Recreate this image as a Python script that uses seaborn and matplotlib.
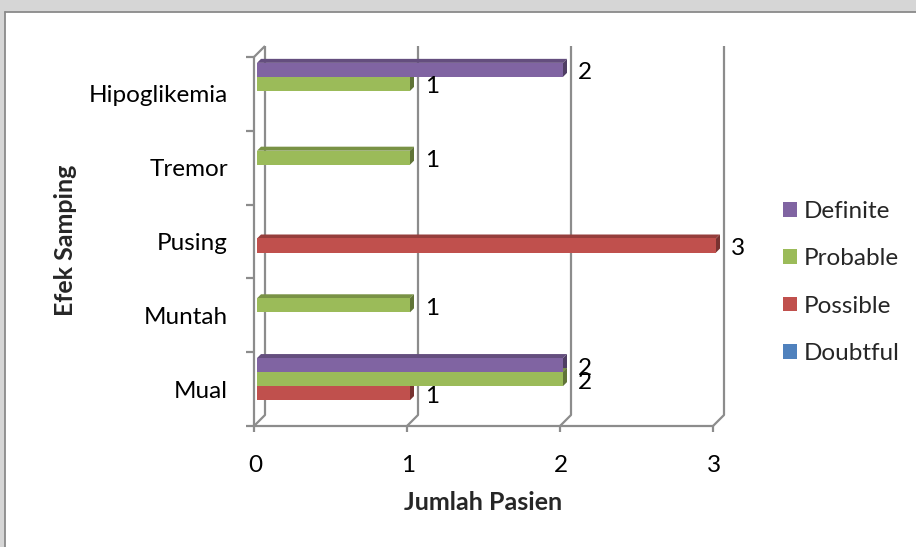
import matplotlib
matplotlib.use("Agg")
import matplotlib.pyplot as plt
from matplotlib.patches import Polygon, Rectangle
from matplotlib.lines import Line2D
from matplotlib.transforms import ScaledTranslation
import numpy as np
import pandas as pd
import seaborn as sns

# Data: adverse effects (top to bottom) and causality categories
efek = ["Hipoglikemia", "Tremor", "Pusing", "Muntah", "Mual"]
kategori = ["Definite", "Probable", "Possible", "Doubtful"]
definite = [2, 0, 0, 0, 2]
probable = [1, 1, 0, 1, 2]
possible = [0, 0, 3, 0, 1]
doubtful = [0, 0, 0, 0, 0]
warna = ["#8064A2", "#9BBB59", "#C0504D", "#4F81BD"]
x_ticks = [0, 1, 2, 3]

nilai = {"Definite": definite, "Probable": probable,
         "Possible": possible, "Doubtful": doubtful}
df = pd.DataFrame(
    [(e, k, nilai[k][i]) for i, e in enumerate(efek) for k in kategori],
    columns=["efek", "kategori", "jumlah"],
)

sns.set_style("white")
plt.rcParams["font.family"] = ["Lato", "DejaVu Sans"]

W, H = 916, 547
fig = plt.figure(figsize=(W / 100, H / 100), dpi=100)
fig.patch.set_facecolor("white")

# page strip and chart frame
fig.add_artist(Rectangle((0, (H - 12) / H), 1, 12 / H, transform=fig.transFigure,
                         facecolor="#d6d6d6", edgecolor="none", zorder=-10))
fig.add_artist(Rectangle((0, 0), 4.5 / W, 1, transform=fig.transFigure,
                         facecolor="#d6d6d6", edgecolor="none", zorder=-10))
fig.add_artist(Line2D([4.5 / W, 1], [(H - 12) / H] * 2, transform=fig.transFigure,
                      color="#8a8a8a", lw=1.3))
fig.add_artist(Line2D([4.5 / W] * 2, [0, (H - 12) / H], transform=fig.transFigure,
                      color="#8a8a8a", lw=1.3))

ax_l, ax_b, ax_w, ax_h = 257, 124, 459, 369
ax = fig.add_axes([ax_l / W, ax_b / H, ax_w / W, ax_h / H])
ax.patch.set_alpha(0)

sns.barplot(data=df, x="jumlah", y="efek", hue="kategori", order=efek,
            hue_order=kategori, palette=warna, orient="h", width=0.76,
            saturation=1, errorbar=None, linewidth=0, ax=ax, zorder=3)

ax.set_xlim(0, 3)
ax.set_ylim(4.5, -0.5)
ux = ax_w / 3.0
uy = ax_h / 5.0

grid_c = "#8c8c8c"
glw = 1.6
kw = dict(color=grid_c, lw=glw, clip_on=False, zorder=1, solid_capstyle="butt")

# back wall gridlines with floor diagonals
for v in x_ticks:
    ax.plot([v + 8 / ux, v + 8 / ux, v - 3 / ux],
            [-0.5 - 8 / uy, 4.5 - 8 / uy, 4.5 + 3 / uy], **kw)
# front left axis, top diagonal, floor edge
ax.plot([-3 / ux, -3 / ux], [-0.5 + 3 / uy, 4.5 + 3 / uy], **kw)
ax.plot([-3 / ux, 8 / ux], [-0.5 + 3 / uy, -0.5 - 8 / uy], **kw)
ax.plot([-3 / ux, 3 - 3 / ux], [4.5 + 3 / uy] * 2, **kw)
for k in range(6):
    ax.plot([-11 / ux, -3 / ux], [k - 0.5 + 3 / uy] * 2, **kw)
for v in x_ticks:
    ax.plot([v - 3 / ux] * 2, [4.5 + 3 / uy, 4.5 + 9 / uy], **kw)

# depth faces on bars and value labels
fs = 17.5
ddx, ddy = 4 / ux, 4 / uy
for cont, c in zip(ax.containers, warna):
    rgb = np.array(matplotlib.colors.to_rgb(c))
    for p in cont.patches:
        w = p.get_width()
        if w <= 0:
            continue
        y0, h = p.get_y(), p.get_height()
        ax.add_patch(Polygon([(0, y0), (w, y0), (w + ddx, y0 - ddy), (ddx, y0 - ddy)],
                             closed=True, facecolor=rgb * 0.78, edgecolor="none",
                             zorder=2, clip_on=False))
        ax.add_patch(Polygon([(w, y0), (w + ddx, y0 - ddy), (w + ddx, y0 + h - ddy), (w, y0 + h)],
                             closed=True, facecolor=rgb * 0.62, edgecolor="none",
                             zorder=2, clip_on=False))
        ax.annotate(f"{int(w)}", xy=(w, y0 + h / 2), xytext=(15, -3),
                    textcoords="offset pixels", ha="left", va="center",
                    fontsize=fs, color="black", zorder=5, annotation_clip=False)

for s in ax.spines.values():
    s.set_visible(False)
ax.set_xticks(x_ticks)
ax.set_xticklabels([str(t) for t in x_ticks])
ax.tick_params(axis="both", length=0, labelsize=fs, colors="black")
ax.tick_params(axis="y", pad=29 * 0.72)
ax.tick_params(axis="x", pad=32 * 0.72)
for lab in ax.get_yticklabels():
    lab.set_transform(lab.get_transform() + ScaledTranslation(0, -3 / 100, fig.dpi_scale_trans))
for lab in ax.get_xticklabels():
    lab.set_transform(lab.get_transform() + ScaledTranslation(-2 / 100, 0, fig.dpi_scale_trans))

ax.set_xlabel("Jumlah Pasien", fontsize=18, fontweight="bold")
ax.xaxis.set_label_coords((483 - ax_l) / ax_w, (H - 502 - ax_b) / ax_h)
ax.xaxis.label.set_va("center")
ax.set_ylabel("Efek Samping", fontsize=18, fontweight="bold")
ax.yaxis.set_label_coords(-(ax_l - 65) / ax_w, (H - 240 - ax_b) / ax_h)
ax.yaxis.label.set_va("center")

handles, labels = ax.get_legend_handles_labels()
if ax.get_legend() is not None:
    ax.get_legend().remove()
fig.legend(handles, labels, loc="center left",
           bbox_to_anchor=(783 / W, (H - 282.5) / H), frameon=False,
           fontsize=fs, handlelength=0.56, handleheight=0.56,
           handletextpad=0.3, labelspacing=1.08, borderpad=0, borderaxespad=0)

fig.savefig("out.png", dpi=100)
